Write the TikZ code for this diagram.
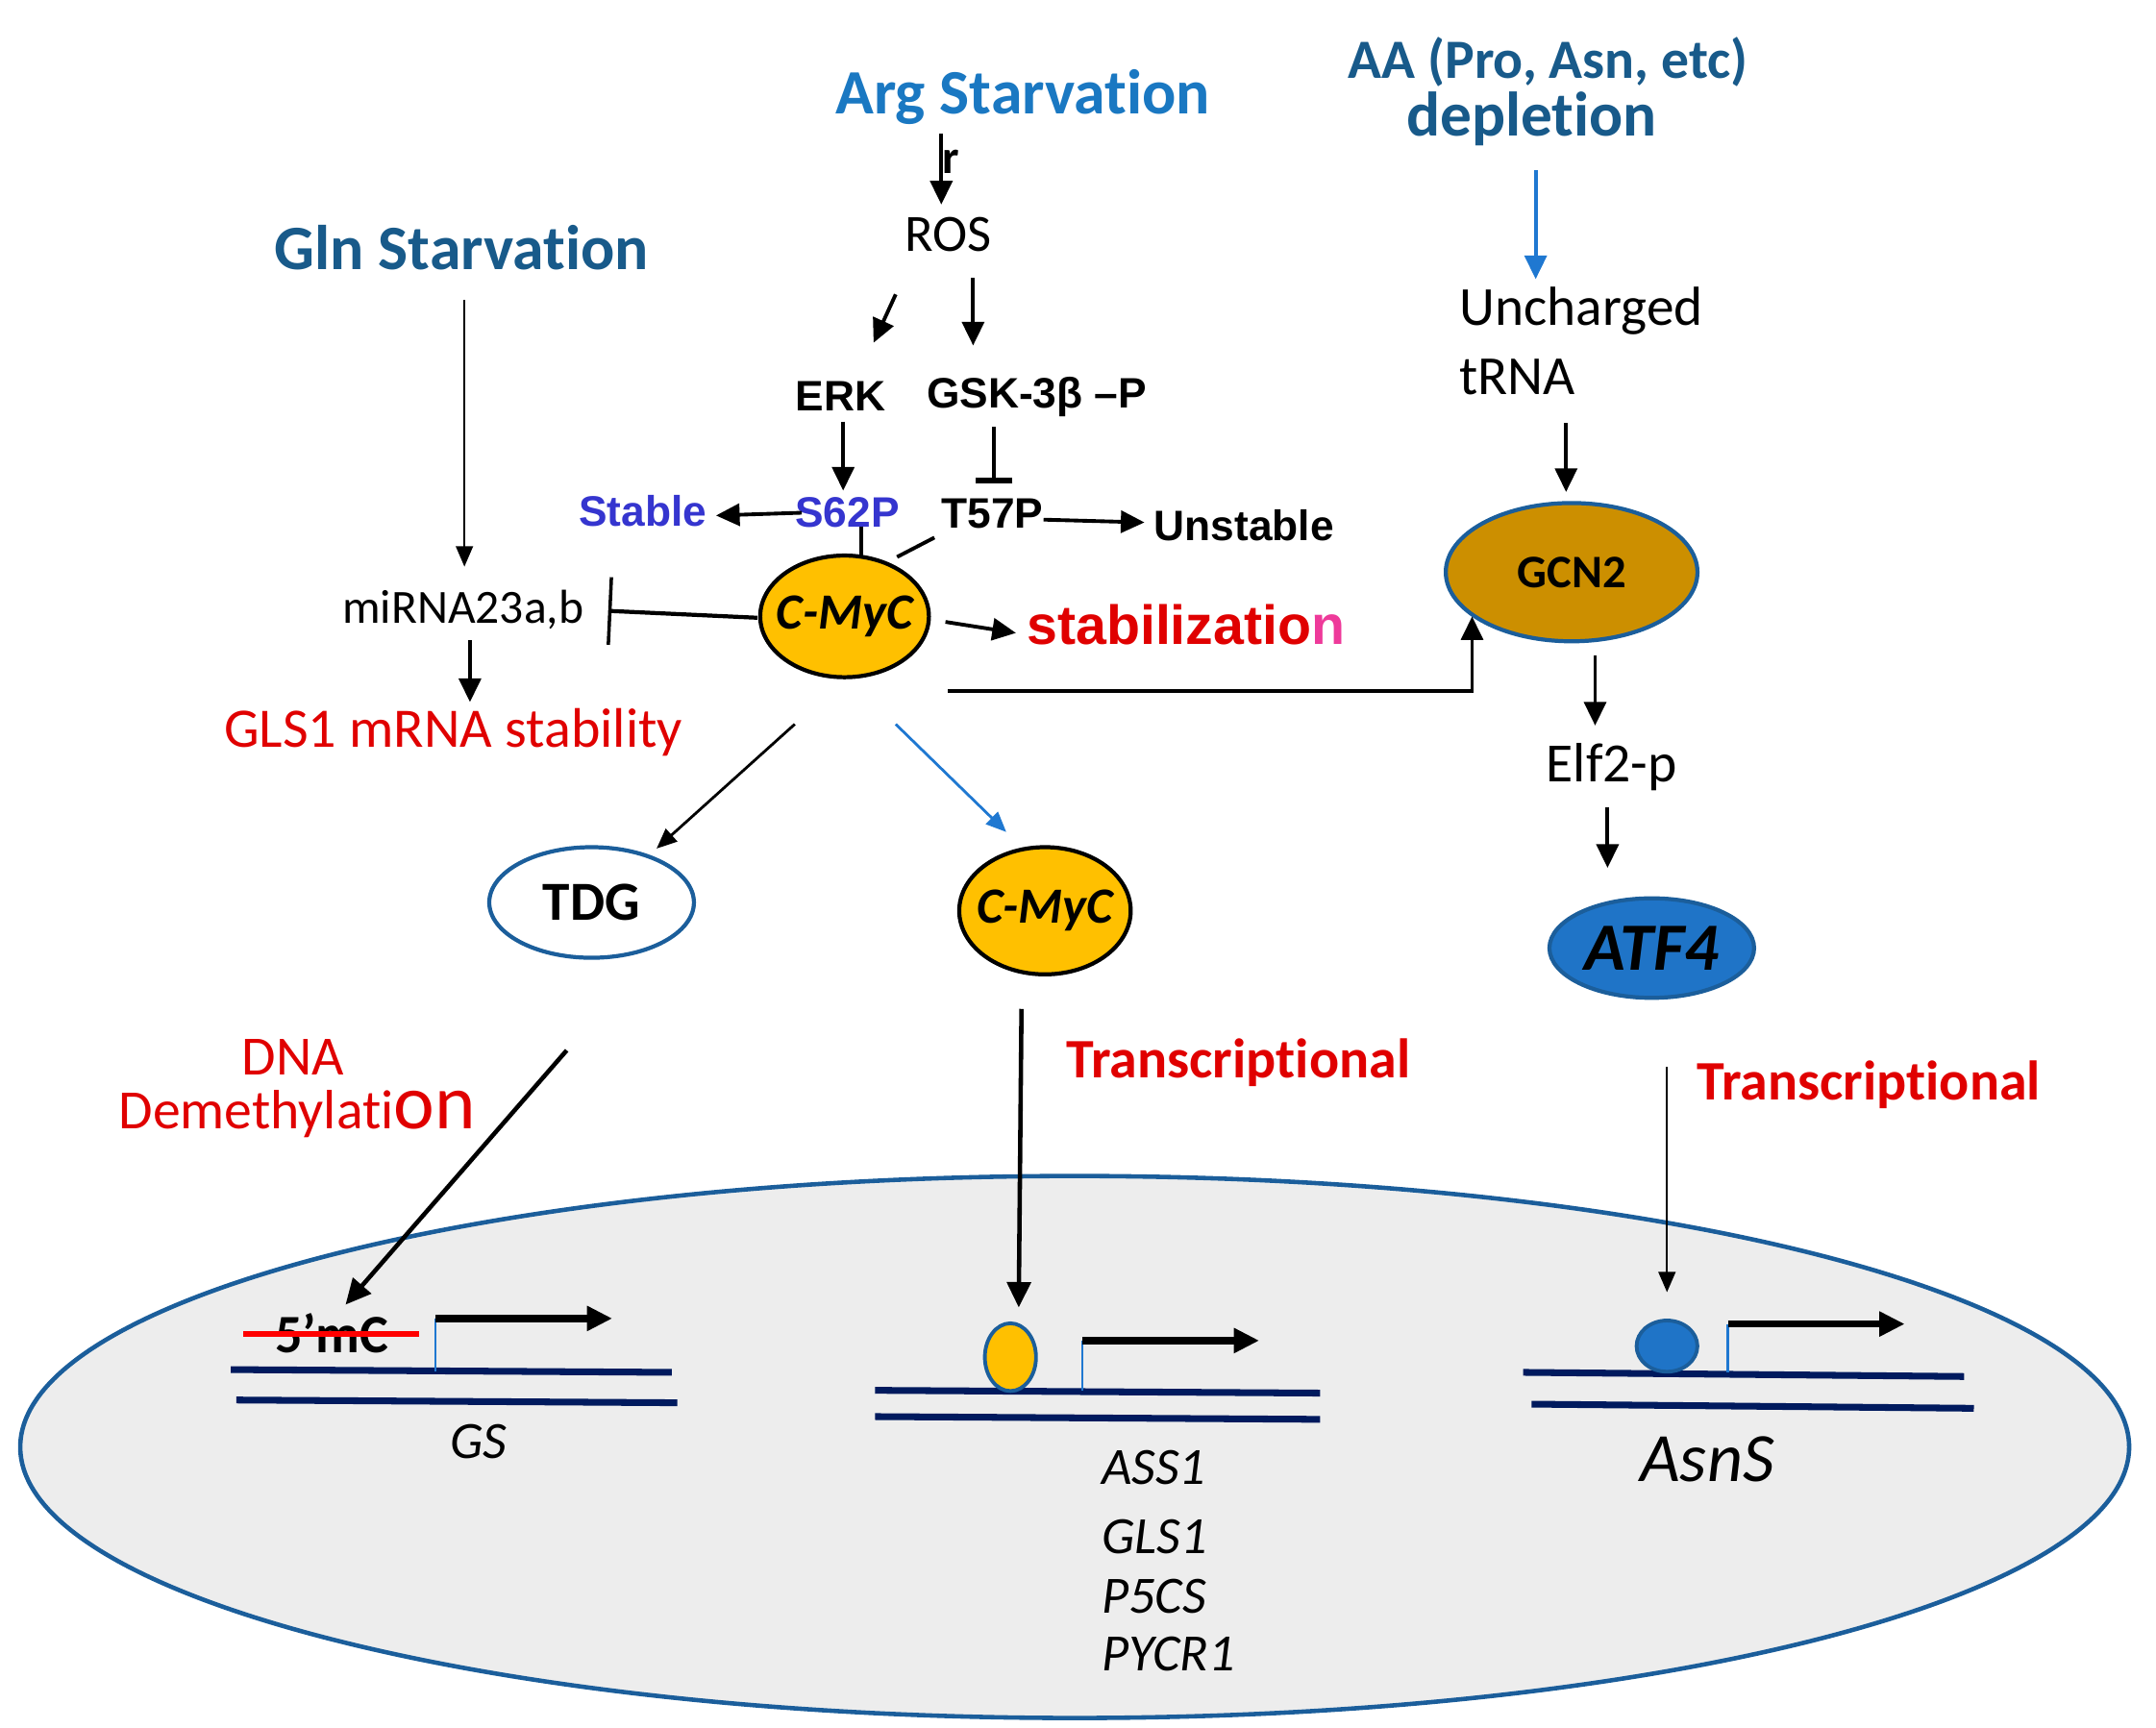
\documentclass[tikz,border=0pt]{standalone}
\usepackage{fontspec}
\setmainfont{Carlito}[Ligatures=NoCommon]
\newfontfamily\arialf{Liberation Sans}
\usetikzlibrary{arrows.meta,shapes.geometric,calc}
\newcommand\fs[1]{\fontsize{#1}{#1}\selectfont}
\newcommand\pxu{0.40915pt}
\definecolor{argblue}{HTML}{1A78C2}
\definecolor{darkblue}{HTML}{185A8A}
\definecolor{myred}{HTML}{E00000}
\definecolor{violetblue}{HTML}{3535CF}
\definecolor{pinkn}{HTML}{EE3A9A}
\definecolor{mycfill}{HTML}{FFC000}
\definecolor{gcnfill}{HTML}{CC8F00}
\definecolor{edgeblue}{HTML}{1B5E9B}
\definecolor{atffill}{HTML}{1F74C7}
\definecolor{cellfill}{HTML}{EDEDED}
\definecolor{navy}{HTML}{001A5E}
\definecolor{lineblue}{HTML}{1F78D1}
\begin{document}
\begin{tikzpicture}[x=0.01438cm,y=-0.01438cm,
  txt/.style={inner sep=0pt,outer sep=0pt},
  ell/.style 2 args={shape=ellipse,inner sep=-6pt,minimum width=#1*\pxu,minimum height=#2*\pxu},
  arr/.style={line width=1.1pt,-{Triangle[length=7pt,width=6.5pt]}},
  thickarr/.style={line width=1.3pt,-{Triangle[length=7.5pt,width=7pt]}},
  thinarr/.style={line width=0.6pt,-{Triangle[length=6pt,width=5pt]}},
  blunt/.style={line width=1.1pt},
  dnaline/.style={navy,line width=2pt},
  promline/.style={lineblue,line width=0.7pt},
  promarr/.style={line width=2.2pt,-{Triangle[length=7.5pt,width=7pt]}},
  hdfont/.style={font=\bfseries\fs{18.7pt}},
  arialb/.style={font=\arialf\bfseries\fs{12.6pt}},
  gene/.style={font=\itshape\fs{15.5pt}},
  myctext/.style={font=\bfseries\itshape\fs{15pt}}
]
\fill[white] (0,0) rectangle (1559.8,1250.3);
\useasboundingbox (0,0) rectangle (1559.8,1250.3);

% nucleus
\node[ell={1525}{392},draw=edgeblue,fill=cellfill,line width=1.3pt] (cell) at (777.5,1047) {};

% top texts
\node[txt,hdfont,text=argblue] (arg) at (740,70) {Arg Starvation};
\node[txt,font=\bfseries\fs{14pt}] (rr) at (688,117) {r};
\node[txt,font=\fs{15.5pt}] (ros) at (686,170) {ROS};
\node[txt,arialb] (erk) at (608,287) {ERK};
\node[txt,arialb] (gsk) at (750,287) {GSK-3β –P};
\node[txt,arialb,text=violetblue] (s62p) at (613,371) {S62P};
\node[txt,arialb,text=violetblue] (stable) at (465,370) {Stable};
\node[txt,arialb] (t57p) at (718,372) {T57P};
\node[txt,arialb] (unstable) at (900,380) {Unstable};
\node[txt,hdfont,text=darkblue] (gln) at (334,179) {Gln Starvation};
\node[txt,font=\fs{14.1pt}] (mirna) at (335,441) {miRNA23a,b};
\node[txt,font=\fs{16.5pt},text=myred] (gls) at (328,530) {GLS1 mRNA stability};
\node[txt,font=\arialf\bfseries\fs{16.3pt}] (stabz) at (858,452) {\textcolor{myred}{stabilizatio}\textcolor{pinkn}{n}};
\node[txt,font=\bfseries\fs{16.4pt},text=darkblue] (aa) at (1120,45) {AA (Pro, Asn, etc)};
\node[txt,font=\bfseries\fs{18.6pt},text=darkblue] (depl) at (1108,86) {depletion};
\node[txt,font=\fs{16.3pt},anchor=west] (unch) at (1056,225) {Uncharged};
\node[txt,font=\fs{16.3pt},anchor=west] (trna) at (1056,273) {tRNA};
\node[txt,font=\fs{16.4pt}] (elf) at (1166,555) {Elf2-p};

% ellipses
\node[ell={122}{88},draw=black,fill=mycfill,line width=1.2pt,myctext] (myc) at (611,446) {C-MyC};
\node[ell={124}{92},draw=black,fill=mycfill,line width=1.2pt,myctext] (myc2) at (756,659) {C-MyC};
\node[ell={148}{80},draw=edgeblue,fill=white,line width=1.2pt,font=\bfseries\fs{16.3pt}] (tdg) at (428,653) {TDG};
\node[ell={182}{100},draw=edgeblue,fill=gcnfill,line width=1.2pt,font=\bfseries\fs{13.8pt}] (gcn) at (1137,414) {GCN2};
\node[ell={148}{72},draw=edgeblue,fill=atffill,line width=1.2pt,font=\bfseries\itshape\fs{20pt}] (atf) at (1195,686) {ATF4};

% lower texts
\node[txt,font=\fs{16.4pt},text=myred,anchor=base] (dna) at (212,778) {DNA};
\node[txt,font=\fs{16.4pt},text=myred,anchor=base] (demeth) at (215,817) {Demethylati{\fs{23pt}on}};
\node[txt,font=\bfseries\fs{16.5pt},text=myred] (trans1) at (896,769) {Transcriptional};
\node[txt,font=\bfseries\fs{16.5pt},text=myred] (trans2) at (1352,785) {Transcriptional};

% connectors top
\coordinate (a1) at (681,97);  \coordinate (a2) at (681,148);
\draw[arr] (a1) -- (a2);
\coordinate (b1) at (648,213); \coordinate (b2) at (632,248);
\draw[arr] (b1) -- (b2);
\coordinate (c1) at (704,201); \coordinate (c2) at (704,250);
\draw[arr] (c1) -- (c2);
\coordinate (d1) at (610,305); \coordinate (d2) at (610,355);
\draw[arr] (d1) -- (d2);
\coordinate (e1) at (719,309); \coordinate (e2) at (719,350);
\draw[line width=1.1pt,-{Bar[width=11pt,line width=1.8pt]}] (e1) -- (e2);
\coordinate (f1) at (580,371); \coordinate (f2) at (518,373);
\draw[arr] (f1) -- (f2);
\coordinate (g1) at (755,376); \coordinate (g2) at (828,378);
\draw[arr] (g1) -- (g2);
\coordinate (h1) at (623,381); \coordinate (h2) at (623,402);
\draw[blunt] (h1) -- (h2);
\coordinate (i1) at (676,389); \coordinate (i2) at (649,403);
\draw[blunt] (i1) -- (i2);
\coordinate (j1) at (548,447); \coordinate (j2) at (440,442);
\draw[line width=1.2pt,-{Bar[width=20pt,line width=1pt]}] (j1) -- (j2);
\coordinate (k1) at (336,217); \coordinate (k2) at (336,410);
\draw[thinarr] (k1) -- (k2);
\coordinate (l1) at (340,463); \coordinate (l2) at (340,508);
\draw[arr] (l1) -- (l2);
\coordinate (m1) at (684,450); \coordinate (m2) at (735,458);
\draw[arr] (m1) -- (m2);
\coordinate (n1) at (686,500); \coordinate (n2) at (1065,446);
\draw[arr] (n1) -| (n2);
\coordinate (o1) at (1111,123); \coordinate (o2) at (1111,202);
\draw[arr,lineblue] (o1) -- (o2);
\coordinate (p1) at (1133,306); \coordinate (p2) at (1133,356);
\draw[arr] (p1) -- (p2);
\coordinate (q1) at (1154,474); \coordinate (q2) at (1154,525);
\draw[arr] (q1) -- (q2);
\coordinate (r1) at (1163,584); \coordinate (r2) at (1163,628);
\draw[arr] (r1) -- (r2);
\coordinate (s1) at (575,524); \coordinate (s2) at (475,614);
\draw[thinarr,line width=0.8pt] (s1) -- (s2);
\coordinate (t1) at (648,524); \coordinate (t2) at (728,602);
\draw[thinarr,line width=0.8pt,lineblue] (t1) -- (t2);

% gene 1 : GS
\draw[dnaline] (167,991) -- (486,993);
\draw[dnaline] (171,1013) -- (490,1015);
\node[txt,font=\bfseries\fs{16pt}] (mc) at (240,965) {5’mC};
\coordinate (mcs1) at (176,965); \coordinate (mcs2) at (303,965);
\draw[red,line width=1.6pt] (mcs1) -- (mcs2);
\coordinate (pa1) at (315,992); \coordinate (pa2) at (315,954); \coordinate (pa3) at (443,954);
\draw[promline] (pa1) -- (pa2);
\draw[promarr] (pa2) -- (pa3);
\node[txt,gene] (gs) at (346,1043) {GS};
\coordinate (u1) at (410,760); \coordinate (u2) at (250,944);
\draw[thickarr] (u1) -- (u2);

% gene 2
\draw[dnaline] (633,1006) -- (955,1008);
\draw[dnaline] (633,1025) -- (955,1027);
\node[ell={37}{49},draw=edgeblue,fill=mycfill,line width=1.1pt] (mycb) at (731,982) {};
\coordinate (pb1) at (783,1006); \coordinate (pb2) at (783,970); \coordinate (pb3) at (911,970);
\draw[promline] (pb1) -- (pb2);
\draw[promarr] (pb2) -- (pb3);
\coordinate (v1) at (739,730); \coordinate (v2) at (737,946);
\draw[thickarr] (v1) -- (v2);
\node[txt,gene,anchor=west] (ass) at (797,1062) {ASS1};
\node[txt,gene,anchor=west] (gls2) at (797,1112) {GLS1};
\node[txt,gene,anchor=west] (p5cs) at (797,1155) {P5CS};
\node[txt,gene,anchor=west] (pycr) at (797,1197) {PYCR1};

% gene 3
\draw[dnaline] (1102,993) -- (1421,996);
\draw[dnaline] (1108,1016) -- (1428,1019);
\node[ell={44}{37},draw=edgeblue,fill=atffill,line width=1.1pt] (atfb) at (1206,974) {};
\coordinate (pc1) at (1250,993); \coordinate (pc2) at (1250,958); \coordinate (pc3) at (1378,958);
\draw[promline] (pc1) -- (pc2);
\draw[promarr] (pc2) -- (pc3);
\coordinate (w1) at (1206,772); \coordinate (w2) at (1206,935);
\draw[thinarr,line width=0.7pt] (w1) -- (w2);
\node[txt,font=\itshape\fs{20.5pt}] (asns) at (1235,1056) {AsnS};
\end{tikzpicture}
\end{document}
